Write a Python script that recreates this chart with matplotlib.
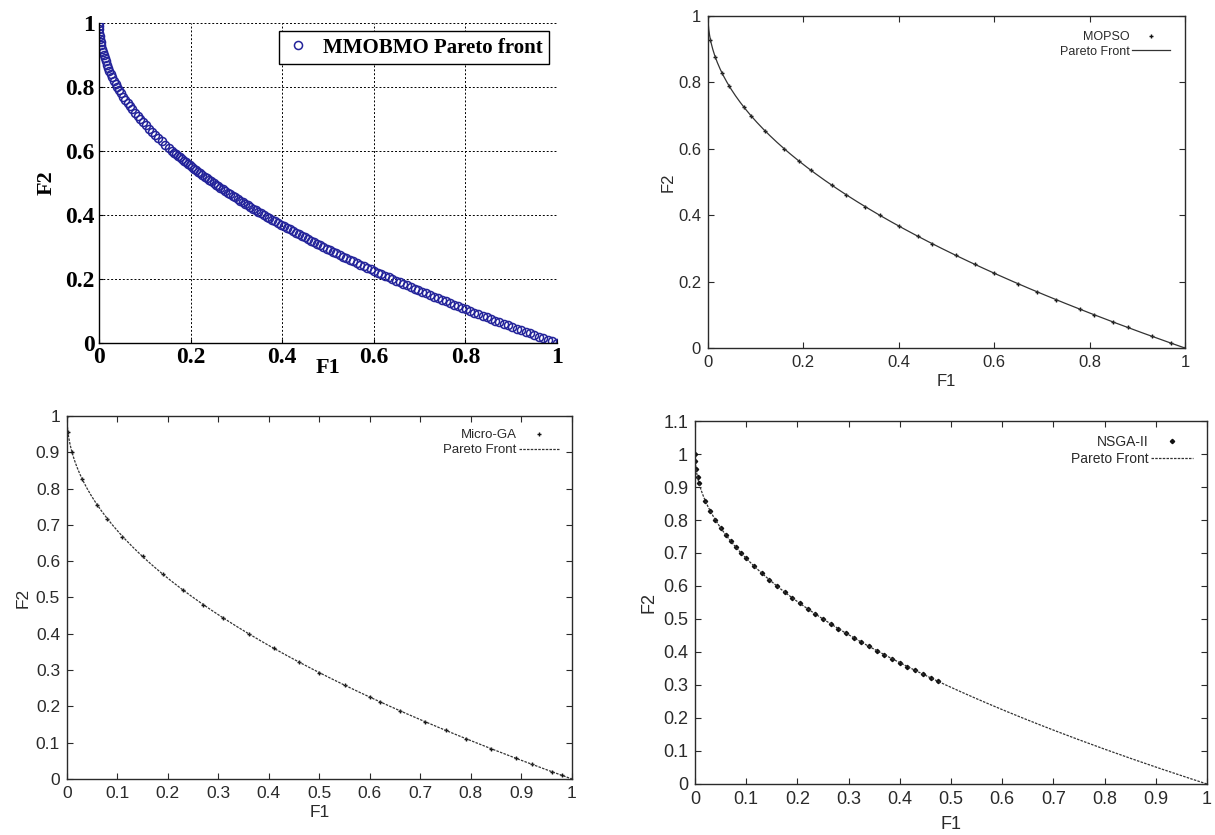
import matplotlib
matplotlib.use("Agg")
import matplotlib.pyplot as plt
from matplotlib.ticker import FixedLocator

# ---------------- data ----------------
# True Pareto front / MMOBMO solutions (F1, F2)
FRONT_F1 = [0.0000, 0.0001, 0.0004, 0.0009, 0.0016, 0.0025, 0.0036, 0.0049, 0.0064, 0.0081,
            0.0100, 0.0121, 0.0144, 0.0169, 0.0196, 0.0225, 0.0256, 0.0289, 0.0324, 0.0361,
            0.0400, 0.0441, 0.0484, 0.0529, 0.0576, 0.0625, 0.0676, 0.0729, 0.0784, 0.0841,
            0.0900, 0.0961, 0.1024, 0.1089, 0.1156, 0.1225, 0.1296, 0.1369, 0.1444, 0.1521,
            0.1600, 0.1640, 0.1681, 0.1722, 0.1764, 0.1806, 0.1849, 0.1892, 0.1936, 0.1980,
            0.2025, 0.2070, 0.2116, 0.2162, 0.2209, 0.2256, 0.2304, 0.2352, 0.2401, 0.2450,
            0.2500, 0.2550, 0.2601, 0.2652, 0.2704, 0.2756, 0.2809, 0.2862, 0.2916, 0.2970,
            0.3025, 0.3080, 0.3136, 0.3192, 0.3249, 0.3306, 0.3364, 0.3422, 0.3481, 0.3540,
            0.3600, 0.3660, 0.3721, 0.3782, 0.3844, 0.3906, 0.3969, 0.4032, 0.4096, 0.4160,
            0.4225, 0.4290, 0.4356, 0.4422, 0.4489, 0.4556, 0.4624, 0.4692, 0.4761, 0.4830,
            0.4900, 0.4970, 0.5041, 0.5112, 0.5184, 0.5256, 0.5329, 0.5402, 0.5476, 0.5550,
            0.5625, 0.5700, 0.5776, 0.5852, 0.5929, 0.6006, 0.6084, 0.6162, 0.6241, 0.6320,
            0.6400, 0.6480, 0.6561, 0.6642, 0.6724, 0.6806, 0.6889, 0.6972, 0.7056, 0.7140,
            0.7225, 0.7310, 0.7396, 0.7482, 0.7569, 0.7656, 0.7744, 0.7832, 0.7921, 0.8010,
            0.8100, 0.8190, 0.8281, 0.8372, 0.8464, 0.8556, 0.8649, 0.8742, 0.8836, 0.8930,
            0.9025, 0.9120, 0.9216, 0.9312, 0.9409, 0.9506, 0.9604, 0.9702, 0.9801, 0.9900,
            1.0000]
FRONT_F2 = [1.000, 0.990, 0.980, 0.970, 0.960, 0.950, 0.940, 0.930, 0.920, 0.910,
            0.900, 0.890, 0.880, 0.870, 0.860, 0.850, 0.840, 0.830, 0.820, 0.810,
            0.800, 0.790, 0.780, 0.770, 0.760, 0.750, 0.740, 0.730, 0.720, 0.710,
            0.700, 0.690, 0.680, 0.670, 0.660, 0.650, 0.640, 0.630, 0.620, 0.610,
            0.600, 0.595, 0.590, 0.585, 0.580, 0.575, 0.570, 0.565, 0.560, 0.555,
            0.550, 0.545, 0.540, 0.535, 0.530, 0.525, 0.520, 0.515, 0.510, 0.505,
            0.500, 0.495, 0.490, 0.485, 0.480, 0.475, 0.470, 0.465, 0.460, 0.455,
            0.450, 0.445, 0.440, 0.435, 0.430, 0.425, 0.420, 0.415, 0.410, 0.405,
            0.400, 0.395, 0.390, 0.385, 0.380, 0.375, 0.370, 0.365, 0.360, 0.355,
            0.350, 0.345, 0.340, 0.335, 0.330, 0.325, 0.320, 0.315, 0.310, 0.305,
            0.300, 0.295, 0.290, 0.285, 0.280, 0.275, 0.270, 0.265, 0.260, 0.255,
            0.250, 0.245, 0.240, 0.235, 0.230, 0.225, 0.220, 0.215, 0.210, 0.205,
            0.200, 0.195, 0.190, 0.185, 0.180, 0.175, 0.170, 0.165, 0.160, 0.155,
            0.150, 0.145, 0.140, 0.135, 0.130, 0.125, 0.120, 0.115, 0.110, 0.105,
            0.100, 0.095, 0.090, 0.085, 0.080, 0.075, 0.070, 0.065, 0.060, 0.055,
            0.050, 0.045, 0.040, 0.035, 0.030, 0.025, 0.020, 0.015, 0.010, 0.005,
            0.000]

MMOBMO_F1 = FRONT_F1
MMOBMO_F2 = FRONT_F2

MOPSO_F1 = [0.0, 0.005, 0.015, 0.03, 0.045, 0.075, 0.09, 0.12, 0.16, 0.19, 0.215, 0.26,
            0.29, 0.33, 0.36, 0.40, 0.44, 0.47, 0.52, 0.56, 0.60, 0.65, 0.69, 0.73,
            0.78, 0.81, 0.85, 0.88, 0.93, 0.97, 1.0]
MOPSO_F2 = [1.0, 0.929, 0.878, 0.827, 0.788, 0.726, 0.700, 0.654, 0.600, 0.564, 0.536, 0.490,
            0.461, 0.426, 0.400, 0.368, 0.337, 0.314, 0.279, 0.252, 0.225, 0.194, 0.169, 0.146,
            0.117, 0.100, 0.078, 0.062, 0.036, 0.015, 0.0]

MICROGA_F1 = [0.0, 0.002, 0.01, 0.03, 0.06, 0.08, 0.11, 0.15, 0.19, 0.23, 0.27, 0.31,
              0.36, 0.41, 0.46, 0.50, 0.55, 0.60, 0.62, 0.66, 0.71, 0.75, 0.79, 0.84,
              0.89, 0.92, 0.96, 0.98, 1.0]
MICROGA_F2 = [1.0, 0.955, 0.900, 0.827, 0.755, 0.717, 0.668, 0.613, 0.564, 0.520, 0.480, 0.443,
              0.400, 0.360, 0.322, 0.293, 0.258, 0.225, 0.213, 0.188, 0.157, 0.134, 0.111, 0.083,
              0.057, 0.041, 0.020, 0.010, 0.0]

NSGA_F1 = [0.0, 0.0005, 0.002, 0.005, 0.008, 0.02, 0.03, 0.04, 0.05, 0.06, 0.07, 0.08,
           0.09, 0.10, 0.115, 0.13, 0.145, 0.16, 0.175, 0.19, 0.205, 0.22, 0.235, 0.25,
           0.265, 0.28, 0.295, 0.31, 0.325, 0.34, 0.355, 0.37, 0.385, 0.40, 0.415, 0.43,
           0.445, 0.46, 0.475]
NSGA_F2 = [1.0, 0.978, 0.955, 0.929, 0.911, 0.859, 0.827, 0.800, 0.776, 0.755, 0.735, 0.717,
           0.700, 0.684, 0.661, 0.639, 0.619, 0.600, 0.582, 0.564, 0.547, 0.531, 0.515, 0.500,
           0.485, 0.471, 0.457, 0.443, 0.430, 0.417, 0.404, 0.392, 0.380, 0.368, 0.356, 0.344,
           0.333, 0.322, 0.311]

TL_TICKS = [0, 0.2, 0.4, 0.6, 0.8, 1]
TL_TICKLABELS = ["0", "0.2", "0.4", "0.6", "0.8", "1"]
TR_TICKS = [0, 0.2, 0.4, 0.6, 0.8, 1]
TR_TICKLABELS = ["0", "0.2", "0.4", "0.6", "0.8", "1"]
TENTHS = [0, 0.1, 0.2, 0.3, 0.4, 0.5, 0.6, 0.7, 0.8, 0.9, 1.0]
TENTH_LABELS = ["0", "0.1", "0.2", "0.3", "0.4", "0.5", "0.6", "0.7", "0.8", "0.9", "1"]
BR_YTICKS = [0, 0.1, 0.2, 0.3, 0.4, 0.5, 0.6, 0.7, 0.8, 0.9, 1.0, 1.1]
BR_YLABELS = ["0", "0.1", "0.2", "0.3", "0.4", "0.5", "0.6", "0.7", "0.8", "0.9", "1", "1.1"]

# ---------------- figure ----------------
fig = plt.figure(figsize=(12.15, 8.35), dpi=100)

SERIF = ["Liberation Serif", "DejaVu Serif"]
SANS = ["Liberation Sans", "DejaVu Sans"]
GREY = "#2a2a2a"

# ---- top-left: MATLAB style ----
ax1 = fig.add_axes([0.0815, 0.5892, 0.377, 0.3832])
ax1.plot(MMOBMO_F1, MMOBMO_F2, linestyle="none", marker="o", markersize=5.8,
         markerfacecolor="none", markeredgecolor="#23239a", markeredgewidth=1.1,
         label="MMOBMO Pareto front")
ax1.set_xlim(0, 1)
ax1.set_ylim(0, 1)
ax1.set_xticks(TL_TICKS)
ax1.set_xticklabels(TL_TICKLABELS)
ax1.set_yticks(TL_TICKS)
ax1.set_yticklabels(TL_TICKLABELS)
ax1.grid(True, color="black", linestyle=(0, (2, 2)), linewidth=0.7)
for s in ["top", "right"]:
    ax1.spines[s].set_visible(False)
for s in ["left", "bottom"]:
    ax1.spines[s].set_linewidth(1.0)
ax1.tick_params(direction="in", length=3, width=0.8, pad=3)
for lab in ax1.get_xticklabels() + ax1.get_yticklabels():
    lab.set_fontfamily(SERIF)
    lab.set_fontweight("bold")
    lab.set_fontsize(17)
ax1.set_xlabel("F1", fontfamily=SERIF, fontweight="bold", fontsize=16, labelpad=-7)
ax1.set_ylabel("F2", fontfamily=SERIF, fontweight="bold", fontsize=16, labelpad=6)
leg1 = ax1.legend(loc="upper right", prop={"family": SERIF, "weight": "bold", "size": 15},
                  fancybox=False, edgecolor="black", framealpha=1, borderaxespad=0.4,
                  handlelength=1.2, handletextpad=0.6, borderpad=0.3)
leg1.get_frame().set_linewidth(1.0)


def gnuplot_style(ax, xt, xl, yt, yl, ylim, fs=12):
    ax.set_xlim(0, 1)
    ax.set_ylim(*ylim)
    ax.xaxis.set_major_locator(FixedLocator(xt))
    ax.set_xticklabels(xl)
    ax.yaxis.set_major_locator(FixedLocator(yt))
    ax.set_yticklabels(yl)
    for s in ax.spines.values():
        s.set_color(GREY)
        s.set_linewidth(1.0)
    ax.tick_params(direction="in", length=4, width=0.8, top=True, right=True,
                   colors=GREY, labelsize=fs, pad=5)
    for lab in ax.get_xticklabels() + ax.get_yticklabels():
        lab.set_fontfamily(SANS)
    ax.set_xlabel("F1", fontfamily=SANS, fontsize=fs, color=GREY)
    ax.set_ylabel("F2", fontfamily=SANS, fontsize=fs, color=GREY)


def gnuplot_legend(ax, fs=9.5, pad=0.8):
    leg = ax.legend(loc="upper right", frameon=False, markerfirst=False,
                    prop={"family": SANS, "size": fs}, handlelength=3.0,
                    handletextpad=0.2, labelspacing=0.2, borderaxespad=pad)
    for t in leg.get_texts():
        t.set_color(GREY)
    return leg


# ---- top-right: MOPSO ----
ax2 = fig.add_axes([0.5827, 0.5832, 0.3926, 0.3976])
ax2.plot(MOPSO_F1, MOPSO_F2, linestyle="none", marker="+", markersize=3.2,
         markeredgewidth=1.0, color="#111111", label="MOPSO")
ax2.plot(FRONT_F1, FRONT_F2, color="#333333", linewidth=0.9, label="Pareto Front")
gnuplot_style(ax2, TR_TICKS, TR_TICKLABELS, TR_TICKS, TR_TICKLABELS, (0, 1), fs=12)
ax2.xaxis.labelpad = 3
ax2.yaxis.labelpad = 2
gnuplot_legend(ax2, fs=9)

# ---- bottom-left: Micro-GA ----
ax3 = fig.add_axes([0.0551, 0.0671, 0.4156, 0.4347])
ax3.plot(MICROGA_F1, MICROGA_F2, linestyle="none", marker="+", markersize=3.2,
         markeredgewidth=1.0, color="#111111", label="Micro-GA")
ax3.plot(FRONT_F1, FRONT_F2, color="#333333", linewidth=0.9, linestyle=(0, (2, 1)),
         label="Pareto Front")
gnuplot_style(ax3, TENTHS, TENTH_LABELS, TENTHS, TENTH_LABELS, (0, 1), fs=12.5)
ax3.xaxis.labelpad = 3
gnuplot_legend(ax3, fs=9.5, pad=0.6)

# ---- bottom-right: NSGA-II ----
ax4 = fig.add_axes([0.572, 0.0611, 0.4214, 0.4347])
ax4.plot(NSGA_F1, NSGA_F2, linestyle="none", marker="D", markersize=2.2,
         color="#111111", label="NSGA-II")
ax4.plot(FRONT_F1, FRONT_F2, color="#333333", linewidth=0.9, linestyle=(0, (2, 1)),
         label="Pareto Front")
gnuplot_style(ax4, TENTHS, TENTH_LABELS, BR_YTICKS, BR_YLABELS, (0, 1.1), fs=13)
ax4.xaxis.labelpad = 6
gnuplot_legend(ax4, fs=10, pad=0.6)

fig.savefig("out.png", dpi=100, facecolor="white")
